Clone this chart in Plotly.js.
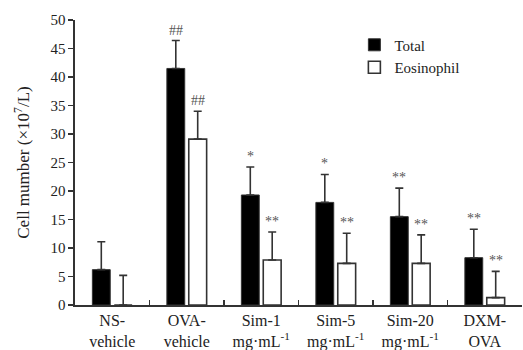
<!DOCTYPE html>
<html><head><meta charset="utf-8">
<script src="https://cdn.plot.ly/plotly-3.0.1.min.js"></script>
<style>html,body{margin:0;padding:0;background:#fff}#chart{width:523px;height:350px}</style>
</head><body><div id="chart"></div>
<script>
const categories = ["NS-<br>vehicle","OVA-<br>vehicle","Sim-1<br>mg·mL<sup>-1</sup>","Sim-5<br>mg·mL<sup>-1</sup>","Sim-20<br>mg·mL<sup>-1</sup>","DXM-<br>OVA"];
const totalValues = [6.2, 41.5, 19.3, 18.0, 15.5, 8.3];
const totalErrors = [4.9, 4.9, 4.9, 4.9, 5.0, 5.0];
const eosValues = [0, 29.1, 7.9, 7.3, 7.3, 1.3];
const eosErrors = [5.2, 4.9, 4.9, 5.3, 5.0, 4.6];
const totalMarks = ["", "##", "*", "*", "**", "**"];
const eosMarks = ["", "##", "**", "**", "**", "**"];

const font = "Liberation Serif, Times New Roman, serif";
const ink = "#333";
const zeros = categories.map(() => 0);

const traces = [
  {type:"bar", name:"Total", legendgroup:"a", x:categories, y:totalValues, width:0.24, offset:-0.267,
   marker:{color:"#000", line:{color:ink, width:1}},
   error_y:{type:"data", symmetric:false, array:totalErrors, arrayminus:zeros, color:ink, thickness:1.6, width:4}},
  {type:"bar", name:"Eosinophil", legendgroup:"b", x:categories, y:eosValues, width:0.24, offset:0.027,
   marker:{color:"#fff", line:{color:ink, width:1.6}},
   error_y:{type:"data", symmetric:false, array:eosErrors, arrayminus:zeros, color:ink, thickness:1.6, width:4}}
];

const annotations = [];
categories.forEach((c, i) => {
  if (totalMarks[i]) annotations.push({x:i - 0.147, y:totalValues[i] + totalErrors[i], xref:"x", yref:"y",
    text:totalMarks[i], showarrow:false, yanchor:"bottom", yshift:1, font:{family:font, size:14, color:"#555"}});
  if (eosMarks[i]) annotations.push({x:i + 0.147, y:eosValues[i] + eosErrors[i], xref:"x", yref:"y",
    text:eosMarks[i], showarrow:false, yanchor:"bottom", yshift:1, font:{family:font, size:14, color:"#555"}});
});

const layout = {
  width:523, height:350,
  margin:{l:75, r:1, t:20, b:45},
  paper_bgcolor:"#fff", plot_bgcolor:"#fff",
  font:{family:font, size:15, color:ink},
  showlegend:true,
  legend:{x:0.625, y:0.97, xanchor:"left", yanchor:"top", bgcolor:"rgba(0,0,0,0)",
    font:{family:font, size:15, color:"#222"}, itemwidth:30, tracegroupgap:9, traceorder:"normal"},
  xaxis:{type:"category", showline:true, linecolor:ink, linewidth:1.6, showgrid:false, zeroline:false,
    ticks:"inside", tickson:"boundaries", ticklen:5, tickwidth:1.5, tickcolor:ink,
    tickfont:{family:font, size:16, color:"#222"}, range:[-0.5, 5.5], fixedrange:true},
  yaxis:{range:[0, 50], dtick:5, showline:true, linecolor:ink, linewidth:1.6, showgrid:false, zeroline:false,
    ticks:"outside", ticklen:5, tickwidth:1.5, tickcolor:ink,
    tickfont:{family:font, size:15, color:"#222"},
    title:{text:"Cell mumber (×10<sup>7</sup>/L)", font:{family:font, size:17, color:"#222"}, standoff:16}},
  annotations:annotations
};

Plotly.newPlot("chart", traces, layout, {staticPlot:true, displayModeBar:false});
</script></body></html>
